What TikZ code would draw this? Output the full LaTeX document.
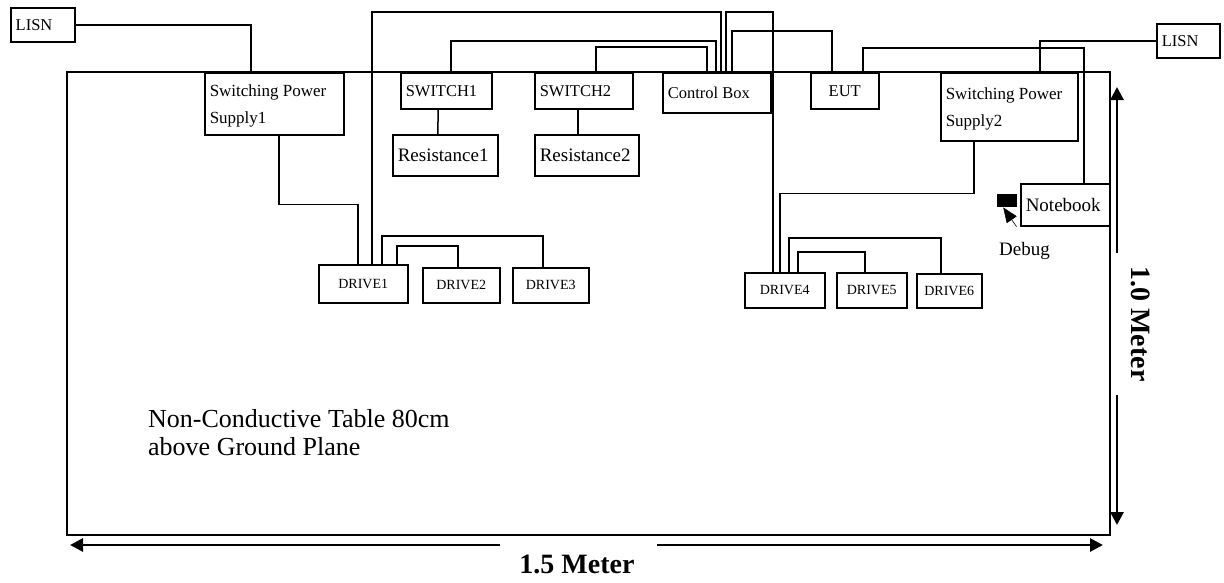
\documentclass[tikz,border=0pt]{standalone}
\usepackage{fontspec}
\setmainfont{Liberation Serif}
\usetikzlibrary{arrows.meta}

\begin{document}
\begin{tikzpicture}[x=1pt,y=-1pt,
  box/.style={draw,line width=1.5pt,anchor=north west,inner xsep=5pt,inner ysep=0pt,align=left,
    execute at begin node={\spaceskip=0pt\xspaceskip=0pt\relax},font=\fontsize{16.5}{20}\selectfont},
  twoline/.style={box,font=\fontsize{17}{27}\selectfont},
  big/.style={box,font=\fontsize{19}{22}\selectfont},
  drive/.style={box,align=center,font=\fontsize{14}{16}\selectfont},
  wire/.style={line width=1.5pt},
  dim/.style={line width=2.8pt,-{Triangle[length=13pt,width=13pt]}}]
\useasboundingbox (0,0) rectangle (1224,582);

% table
\draw[line width=1.5pt] (67,72) rectangle (1110,535);
\node[anchor=north west,inner sep=0pt,align=left,font=\fontsize{26}{28}\selectfont] (table) at (148,409) {Non-Conductive Table 80cm\\above Ground Plane};

% units
\node[box,text width=54pt,minimum height=34pt] (lisn1) at (10,7) {LISN};
\node[twoline,text width=129pt,minimum height=62pt] (sps1) at (204,72) {\rule{0pt}{16pt}Switching Power\\Supply1};
\node[box,text width=81pt,minimum height=36pt] (sw1) at (400,72) {SWITCH1};
\node[big,text width=95pt,minimum height=41pt] (res1) at (392,134) {Resistance1};
\node[box,text width=88pt,minimum height=36pt] (sw2) at (534,72) {SWITCH2};
\node[big,text width=94pt,minimum height=41pt] (res2) at (534,134) {Resistance2};
\node[box,text width=98pt,minimum height=40pt] (cbox) at (662,72) {Control Box};
\node[box,align=center,text width=58pt,minimum height=36pt] (eut) at (810,72) {EUT};
\node[twoline,text width=127pt,minimum height=68pt] (sps2) at (940,72) {\rule{0pt}{16pt}Switching Power\\Supply2};
\node[box,text width=53pt,minimum height=34pt] (lisn2) at (1156,23) {LISN};
\node[big,text width=79pt,minimum height=42pt] (nb) at (1020,183) {Notebook};
\node[drive,text width=79pt,minimum height=38pt] (drv1) at (318,264) {DRIVE1};
\node[drive,text width=67pt,minimum height=35pt] (drv2) at (422,267) {DRIVE2};
\node[drive,text width=66pt,minimum height=35pt] (drv3) at (512,267) {DRIVE3};
\node[drive,text width=70pt,minimum height=35pt] (drv4) at (744,272) {DRIVE4};
\node[drive,text width=60pt,minimum height=35pt] (drv5) at (836,272) {DRIVE5};
\node[drive,text width=55pt,minimum height=34pt] (drv6) at (916,273) {DRIVE6};

% debug port
\node[fill=black,anchor=north west,inner sep=0pt,minimum width=20pt,minimum height=13pt] (dbg) at (997,194) {};
\node[anchor=base,inner sep=2pt,font=\fontsize{19}{22}\selectfont] (dbglab) at (1024.5,255) {Debug};
\draw[line width=0.6pt,-{Triangle[length=15pt,width=12pt]}] ([xshift=-8pt,yshift=13pt]dbglab.north) -- ([xshift=-4pt]dbg.south);

% cables
\draw[wire] (lisn1.east) -| ([xshift=-23.5pt]sps1.north);
\draw[wire] ([xshift=4.5pt]sps1.south) -- ++(0,69) -| ([xshift=-5.5pt]drv1.north);
\draw[wire] ([xshift=8.5pt]drv1.north) -- ++(0,-252) -| ([xshift=4pt]cbox.north);
\draw[wire] ([xshift=18.5pt]drv1.north) -- ++(0,-28) -| ([xshift=-8pt]drv3.north);
\draw[wire] ([xshift=33.5pt]drv1.north) -- ++(0,-18) -| ([xshift=-3.5pt]drv2.north);
\draw[wire] ([xshift=4.5pt]sw1.north) -- ++(0,-31) -| ([xshift=-1pt]cbox.north);
\draw[wire] ([xshift=12pt]sw2.north) -- ++(0,-25) -| ([xshift=-10pt]cbox.north);
\draw[wire] ([xshift=-8pt]sw1.south) -- ([xshift=-7.5pt]res1.north);
\draw[wire] ([xshift=-6pt]sw2.south) -- ([xshift=-9pt]res2.north);
\draw[wire] ([xshift=9pt]cbox.north) -- ++(0,-60) -| ([xshift=-12pt]drv4.north);
\draw[wire] ([xshift=15pt]cbox.north) -- ++(0,-41) -| ([xshift=-13pt]eut.north);
\draw[wire] ([xshift=18pt]eut.north) -- ++(0,-24) -| ([xshift=18.5pt]nb.north);
\draw[wire] ([xshift=30.5pt]sps2.north) |- (lisn2.west);
\draw[wire] ([xshift=-35.5pt]sps2.south) -- ++(0,52) -| ([xshift=-5pt]drv4.north);
\draw[wire] ([xshift=4pt]drv4.north) -- ++(0,-34) -| ([xshift=-8.5pt]drv6.north);
\draw[wire] ([xshift=13pt]drv4.north) -- ++(0,-20) -| ([xshift=-7pt]drv5.north);

% dimensions
\coordinate (vgap1) at (1117,253);
\coordinate (vtop) at (1117,87);
\coordinate (vgap2) at (1117,395);
\coordinate (vbot) at (1117,525);
\draw[dim] (vgap1) -- (vtop);
\draw[dim] (vgap2) -- (vbot);
\node[rotate=-90,font=\bfseries\fontsize{28}{30}\selectfont] (vlab) at (1141,324) {1.0 Meter};
\coordinate (hgap1) at (500,545);
\coordinate (hleft) at (70,545);
\coordinate (hgap2) at (657,545);
\coordinate (hright) at (1103,545);
\draw[dim] (hgap1) -- (hleft);
\draw[dim] (hgap2) -- (hright);
\node[anchor=base,font=\bfseries\fontsize{28}{30}\selectfont] (hlab) at (577,573) {1.5 Meter};
\end{tikzpicture}
\end{document}
